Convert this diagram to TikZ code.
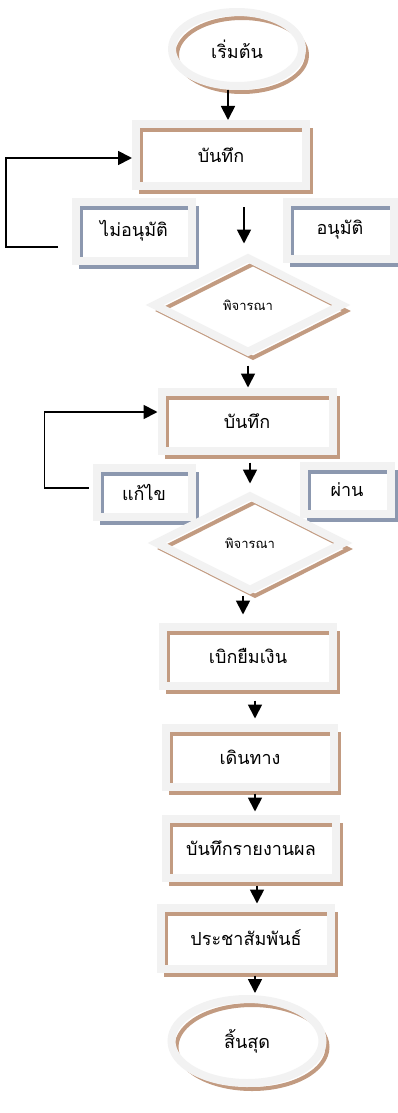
\documentclass[tikz,border=0pt]{standalone}
\usepackage{fontspec}
\newfontfamily\thaifont[Script=Thai]{Loma}
\usetikzlibrary{shapes.geometric,arrows.meta}
\definecolor{ringgray}{HTML}{F2F2F2}
\definecolor{shadowtan}{HTML}{C29B81}
\definecolor{shadowslate}{HTML}{8C98AF}

\begin{document}
\begin{tikzpicture}[
  x=1pt, y=-1pt,
  shadowed/.style={
    preaction={fill=white},
    preaction={draw=#1, line width=4pt,
      transform canvas={shift={(5pt,-6pt)}}},
    draw=ringgray, line width=8pt,
    font=\thaifont\fontsize{18}{20}\selectfont
  },
  startstop/.style={shadowed=shadowtan, ellipse, inner sep=0pt},
  procbox/.style={shadowed=shadowtan, rectangle, minimum width=170, minimum height=59},
  choicebox/.style={shadowed=shadowslate, rectangle},
  decide/.style={shadowed=shadowtan, diamond, minimum width=190, minimum height=97,
    font=\thaifont\fontsize{13}{15}\selectfont},
  arr/.style={-{Triangle[width=14pt,length=14pt]}, line width=1.8pt, black}
]
\useasboundingbox (0,0) rectangle (398,1113);

% main column
\node[startstop, minimum width=130, minimum height=74] (start) at (237,49) {เริ่มต้น};
\node[procbox, minimum height=62] (rec1) at (221,155) {บันทึก};
\node[choicebox, minimum width=116, minimum height=59] (no1) at (134,231) {ไม่อนุมัติ};
\node[choicebox, minimum width=107, minimum height=57] (yes1) at (340,230) {อนุมัติ};
\node[decide] (dia1) at (248,305) {พิจารณา};
\node[procbox, minimum width=171] (rec2) at (247,421) {บันทึก};
\node[choicebox, minimum width=95, minimum height=49] (fix) at (144,492) {แก้ไข};
\node[choicebox, minimum width=87, minimum height=48] (pass) at (347,490) {ผ่าน};
\node[decide] (dia2) at (250,543) {พิจารณา};
\node[procbox] (borrow) at (248,656) {เบิกยืมเงิน};
\node[procbox, minimum width=168] (travel) at (250,757) {เดินทาง};
\node[procbox] (report) at (251,848) {บันทึกรายงานผล};
\node[procbox, minimum height=61] (pr) at (246,938) {ประชาสัมพันธ์};
\node[startstop, minimum width=151, minimum height=84] (stop) at (247,1041) {สิ้นสุด};

% arrows down
\draw[arr] ([xshift=-9pt]start.south) -- ([xshift=7pt]rec1.north);
\draw[arr, shorten <=17pt, shorten >=9pt] ([xshift=23pt]rec1.south) -- ([xshift=-4pt]dia1.north);
\draw[arr, shorten <=8pt] (dia1.south) -- (dia1.south |- rec2.north);
\draw[arr, shorten <=8pt, shorten >=7pt] ([xshift=3pt]rec2.south) -- (dia2.north);
\draw[arr, shorten >=8pt] ([xshift=-7pt]dia2.south) -- ([xshift=-5pt]borrow.north);
\draw[arr, shorten <=11pt, shorten >=5pt] ([xshift=7pt]borrow.south) -- ([xshift=5pt]travel.north);
\draw[arr, shorten <=3pt, shorten >=3pt] ([xshift=5pt]travel.south) -- ([xshift=4pt]report.north);
\draw[arr, shorten <=4pt] ([xshift=6pt]report.south) -- ([xshift=11pt]pr.north);
\draw[arr, shorten <=3pt, shorten >=2pt] ([xshift=9pt]pr.south) -- ([xshift=8pt]stop.north);

% loops back
\coordinate (back1) at ([xshift=-14pt,yshift=-16pt]no1.west);
\draw[arr] (back1) -- ++(-52,0) |- ([yshift=-3pt]rec1.west);
\coordinate (back2) at ([xshift=-4pt,yshift=4pt]fix.west);
\draw[arr] (back2) -- ++(-44,0) |- ([yshift=9pt]rec2.west);
\end{tikzpicture}
\end{document}
